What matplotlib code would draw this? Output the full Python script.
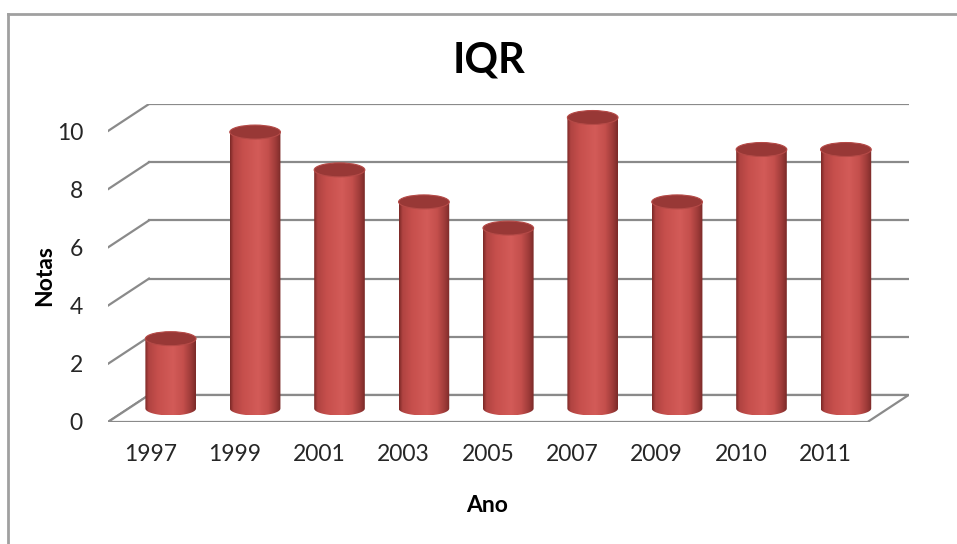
import numpy as np
import matplotlib
matplotlib.use('Agg')
import matplotlib.pyplot as plt
from matplotlib.colors import LinearSegmentedColormap
from matplotlib.patches import Ellipse, Polygon

# dados
anos = ['1997', '1999', '2001', '2003', '2005', '2007', '2009', '2010', '2011']
notas = [2.4, 9.5, 8.2, 7.1, 6.2, 10.0, 7.1, 8.9, 8.9]
y_ticks = [0, 2, 4, 6, 8, 10]

plt.rcParams['font.family'] = ['Lato', 'DejaVu Sans']

# deslocamento de profundidade (efeito 3D), em unidades de dados
DX, DY = 0.486, 0.928
bar_w = 0.6
ell_h = 0.48
grid_color = '#8a8a8a'

cyl_cmap = LinearSegmentedColormap.from_list('cyl', [
    (0.0, '#7a2826'), (0.07, '#b04341'), (0.25, '#c64f4c'),
    (0.55, '#d35b58'), (0.75, '#c44f4c'), (0.9, '#9e3b39'), (1.0, '#7a2a28')])
grad = np.linspace(0, 1, 256).reshape(1, -1)

fig = plt.figure(figsize=(9.57, 5.44), dpi=100)
ax = fig.add_axes([108/957, (544-422)/544, 800.6/957, 318/544])

n = len(anos)
# parede do fundo + linhas laterais
for v in y_ticks:
    ax.plot([-0.5 + DX, n - 0.5 + DX], [v + DY, v + DY], color=grid_color, lw=1.6, zorder=1)
    ax.plot([-0.5, -0.5 + DX], [v, v + DY], color=grid_color, lw=1.6, zorder=1)
# chão
floor = Polygon([(-0.5, 0), (n - 0.5, 0), (n - 0.5 + DX, DY), (-0.5 + DX, DY)],
                closed=True, facecolor='white', edgecolor=grid_color, lw=1.6, zorder=1)
ax.add_patch(floor)

# cilindros
t = np.linspace(0, np.pi, 60)
for i, v in enumerate(notas):
    xc = i + DX / 2
    y0 = DY / 2
    y1 = v + DY / 2
    xl, xr = xc - bar_w / 2, xc + bar_w / 2
    arc_x = xc - bar_w / 2 * np.cos(t)
    arc_y = y0 - ell_h / 2 * np.sin(t)
    pts = [(xl, y1)] + list(zip(arc_x, arc_y)) + [(xr, y1)]
    body = Polygon(pts, closed=True, facecolor='none', edgecolor='none', zorder=3)
    ax.add_patch(body)
    im = ax.imshow(grad, cmap=cyl_cmap, aspect='auto', interpolation='bilinear',
                   extent=[xl, xr, y0 - ell_h / 2, y1], zorder=3)
    im.set_clip_path(body)
    top = Ellipse((xc, y1), bar_w, ell_h, facecolor='#983836', edgecolor='#b54a47',
                  lw=0.8, zorder=4)
    ax.add_patch(top)

ax.set_xlim(-0.5, n - 0.5 + DX)
ax.set_ylim(0, 10 + DY)
ax.set_xticks(range(n))
ax.set_xticklabels(anos)
ax.set_yticks(y_ticks)
ax.set_yticklabels([str(v) for v in y_ticks])
ax.tick_params(axis='x', length=0, pad=16, labelsize=16.5, colors='#262626')
ax.tick_params(axis='y', length=0, pad=18, labelsize=16.5, colors='#262626')
for s in ax.spines.values():
    s.set_visible(False)

# títulos
fig.text(489/957, 1 - 60/544, 'IQR', fontsize=30, weight='bold', ha='center', va='center')
fig.text(487/957, 1 - 506/544, 'Ano', fontsize=16.5, weight='bold', ha='center', va='center')
fig.text(45/957, 1 - 276/544, 'Notas', fontsize=16.5, weight='bold', ha='center', va='center',
         rotation=90)

# moldura do gráfico
fig.add_artist(plt.Line2D([8/957, 8/957], [0, 1 - 14/544], color='#a0a0a0', lw=2,
                          transform=fig.transFigure))
fig.add_artist(plt.Line2D([8/957, 1], [1 - 14/544, 1 - 14/544], color='#a0a0a0', lw=2,
                          transform=fig.transFigure))

fig.savefig('out.png', dpi=100)
